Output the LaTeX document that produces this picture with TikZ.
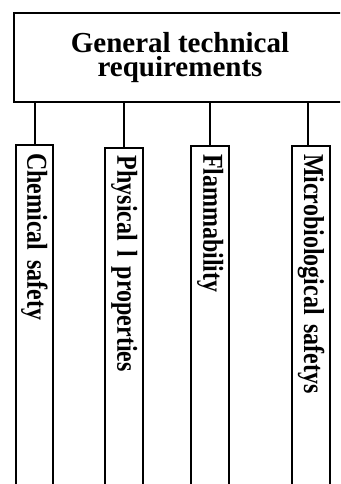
\documentclass[tikz,border=0pt]{standalone}
\usepackage{fontspec}
\newfontfamily\titlefont{Liberation Serif}
\newfontfamily\columnfont[FakeStretch=0.833]{Liberation Serif}

\begin{document}
\begin{tikzpicture}[
    x=1pt, y=-1pt,
    head/.style={
        rectangle,
        draw,
        line width=2pt,
        minimum width=332pt,
        minimum height=89pt,
        align=center,
        font=\titlefont\fontsize{29}{24}\selectfont\bfseries
    },
    column/.style={
        rectangle,
        draw,
        line width=2pt,
        rotate=-90,
        anchor=west,
        minimum width=360pt,
        minimum height=37.6pt,
        text width=344pt,
        inner xsep=8pt,
        align=left,
        font=\columnfont\fontsize{28.8}{30}\selectfont\bfseries
    },
    link/.style={line width=2pt}
]
    \useasboundingbox (0, 0) rectangle (340, 484);
    \clip (0, 0) rectangle (340, 484);

    \node[head] (general) at (180, 57.2) {General technical\\requirements};

    \node[column] (chemical) at (34.5, 144.3) {Chemical safety};
    \node[column] (physical) at (124.2, 146.7) {Physical l properties};
    \node[column] (flammability) at (210.2, 145) {Flammability};
    \node[column] (microbio) at (311.2, 145) {Microbiological safetys};

    \draw[link] (general.south -| chemical.west) -- (chemical.west);
    \draw[link] (general.south -| physical.west) -- (physical.west);
    \draw[link] (general.south -| flammability.west) -- (flammability.west);
    \draw[link] ([xshift=-3pt]general.south -| microbio.west) -- ([xshift=-3pt]microbio.west);

\end{tikzpicture}
\end{document}
